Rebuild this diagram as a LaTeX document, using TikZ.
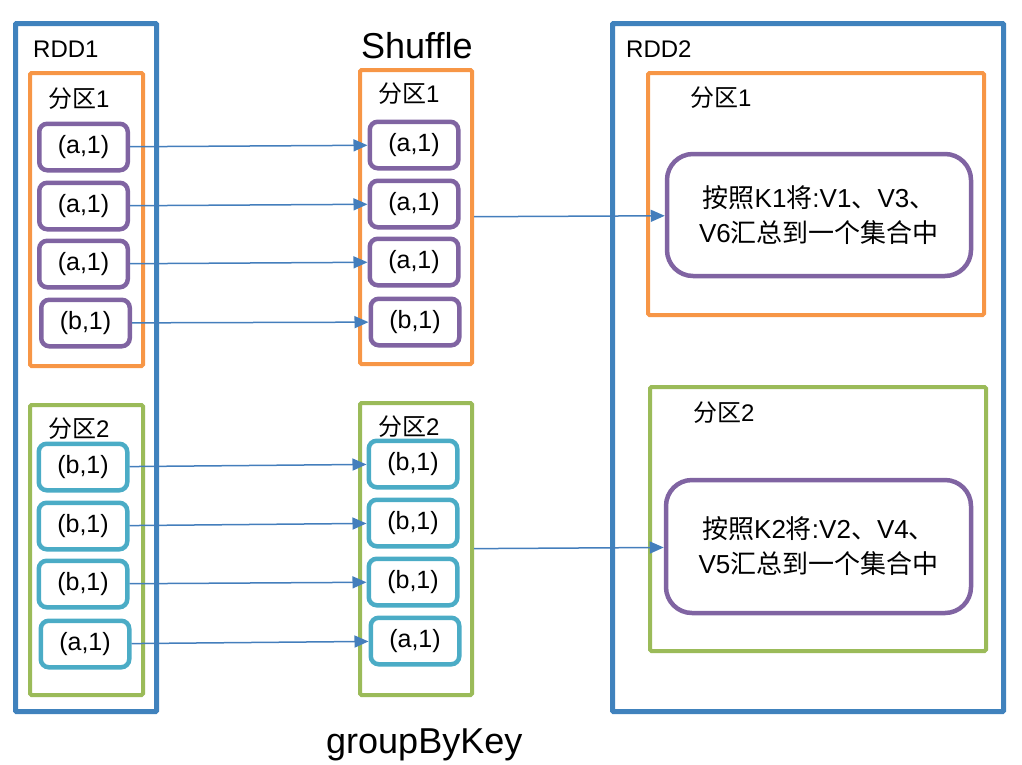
\documentclass[tikz,border=0pt]{standalone}
\usepackage{fontspec}
\setmainfont{Liberation Sans}
\newfontfamily\cjk{Noto Sans CJK SC}
\usetikzlibrary{arrows.meta}

\definecolor{rddblue}{RGB}{64,130,189}
\definecolor{partorange}{RGB}{247,150,70}
\definecolor{partgreen}{RGB}{155,187,89}
\definecolor{kvpurple}{RGB}{128,100,162}
\definecolor{kvteal}{RGB}{75,172,198}
\definecolor{flowblue}{RGB}{68,126,188}

\newcommand{\zh}[1]{{\cjk #1}}

\tikzset{
  rddbox/.style={draw=rddblue, line width=5pt, rounded corners=1pt, inner sep=0pt},
  partbox/.style={draw=#1, line width=4pt, rounded corners=1.5pt, inner sep=0pt},
  kvbox/.style={draw=#1, line width=4.5pt, rounded corners=8pt, minimum width=88.5pt,
    minimum height=46.5pt, inner sep=0pt, font=\fontsize{25}{28}\selectfont},
  groupbox/.style={draw=kvpurple, line width=4.5pt, rounded corners=26pt, inner sep=0pt,
    align=center, font=\fontsize{26}{35}\selectfont},
  lbl/.style={anchor=base west, inner sep=0pt, font=\fontsize{24}{28}\selectfont},
  flow/.style={draw=flowblue, line width=1.5pt, -{Triangle[length=14pt,width=12pt]}}
}

\begin{document}
\begin{tikzpicture}[x=1pt,y=1pt,yscale=-1,xscale=1]
\useasboundingbox (0,0) rectangle (1022,764);

% RDD containers
\node[rddbox, minimum width=141pt, minimum height=688pt] (rdd1) at (86,367.5) {};
\node[rddbox, minimum width=391pt, minimum height=688pt] (rdd2) at (808,367.5) {};

% Partitions
\node[partbox=partorange, minimum width=113pt, minimum height=293pt] (p1) at (86.5,219.5) {};
\node[partbox=partgreen,  minimum width=113pt, minimum height=290pt] (p2) at (86.5,550) {};
\node[partbox=partorange, minimum width=112pt, minimum height=294pt] (sh1) at (416,217) {};
\node[partbox=partgreen,  minimum width=112pt, minimum height=292pt] (sh2) at (416,549) {};
\node[partbox=partorange, minimum width=336pt, minimum height=242pt] (q1) at (816,194) {};
\node[partbox=partgreen,  minimum width=336pt, minimum height=264pt] (q2) at (818,519) {};

% Titles
\node[lbl] (rdd1lbl) at (33,57) {RDD1};
\node[lbl] (rdd2lbl) at (626,57) {RDD2};
\node[lbl, font=\fontsize{36}{40}\selectfont] (shufflelbl) at (361,58) {Shuffle};
\node[lbl, font=\fontsize{36}{40}\selectfont] (opname) at (326,753) {groupByKey};

\node[lbl] (p1lbl) at (48,107) {\zh{分区}1};
\node[lbl] (p2lbl) at (48,437) {\zh{分区}2};
\node[lbl] (sh1lbl) at (378,102) {\zh{分区}1};
\node[lbl] (sh2lbl) at (378,435) {\zh{分区}2};
\node[lbl] (q1lbl) at (690,106) {\zh{分区}1};
\node[lbl] (q2lbl) at (693,421) {\zh{分区}2};

% Key/value records
\foreach \x/\y/\k [count=\i] in {83.5/147/a,83.5/206/a,83.5/264/a,85.5/323/b}
  \node[kvbox=kvpurple] (a\i) at (\x,\y) {(\k,1)};
\foreach \x/\y/\k [count=\i] in {83/467/b,83/526/b,83/584/b,85/644/a}
  \node[kvbox=kvteal] (b\i) at (\x,\y) {(\k,1)};
\foreach \x/\y/\k [count=\i] in {414/145/a,414/204/a,414/262/a,415/322/b}
  \node[kvbox=kvpurple] (sa\i) at (\x,\y) {(\k,1)};
\foreach \x/\y/\k [count=\i] in {413/464/b,413/523/b,413/582/b,415/641/a}
  \node[kvbox=kvteal] (sb\i) at (\x,\y) {(\k,1)};

% Grouped results
\node[groupbox, minimum width=304pt, minimum height=122pt] (g1) at (819,215)
  {\zh{按照}K1\zh{将}:V1\zh{、}V3\zh{、}\\V6\zh{汇总到一个集合中}};
\node[groupbox, minimum width=305pt, minimum height=133pt] (g2) at (818.5,546.5)
  {\zh{按照}K2\zh{将}:V2\zh{、}V4\zh{、}\\V5\zh{汇总到一个集合中}};

% Shuffle arrows
\foreach \i in {1,...,4} {
  \draw[flow] (a\i) -- (sa\i);
  \draw[flow] (b\i) -- (sb\i);
}
\draw[flow] (sh1) -- (g1);
\draw[flow] (sh2) -- (g2);

\end{tikzpicture}
\end{document}
